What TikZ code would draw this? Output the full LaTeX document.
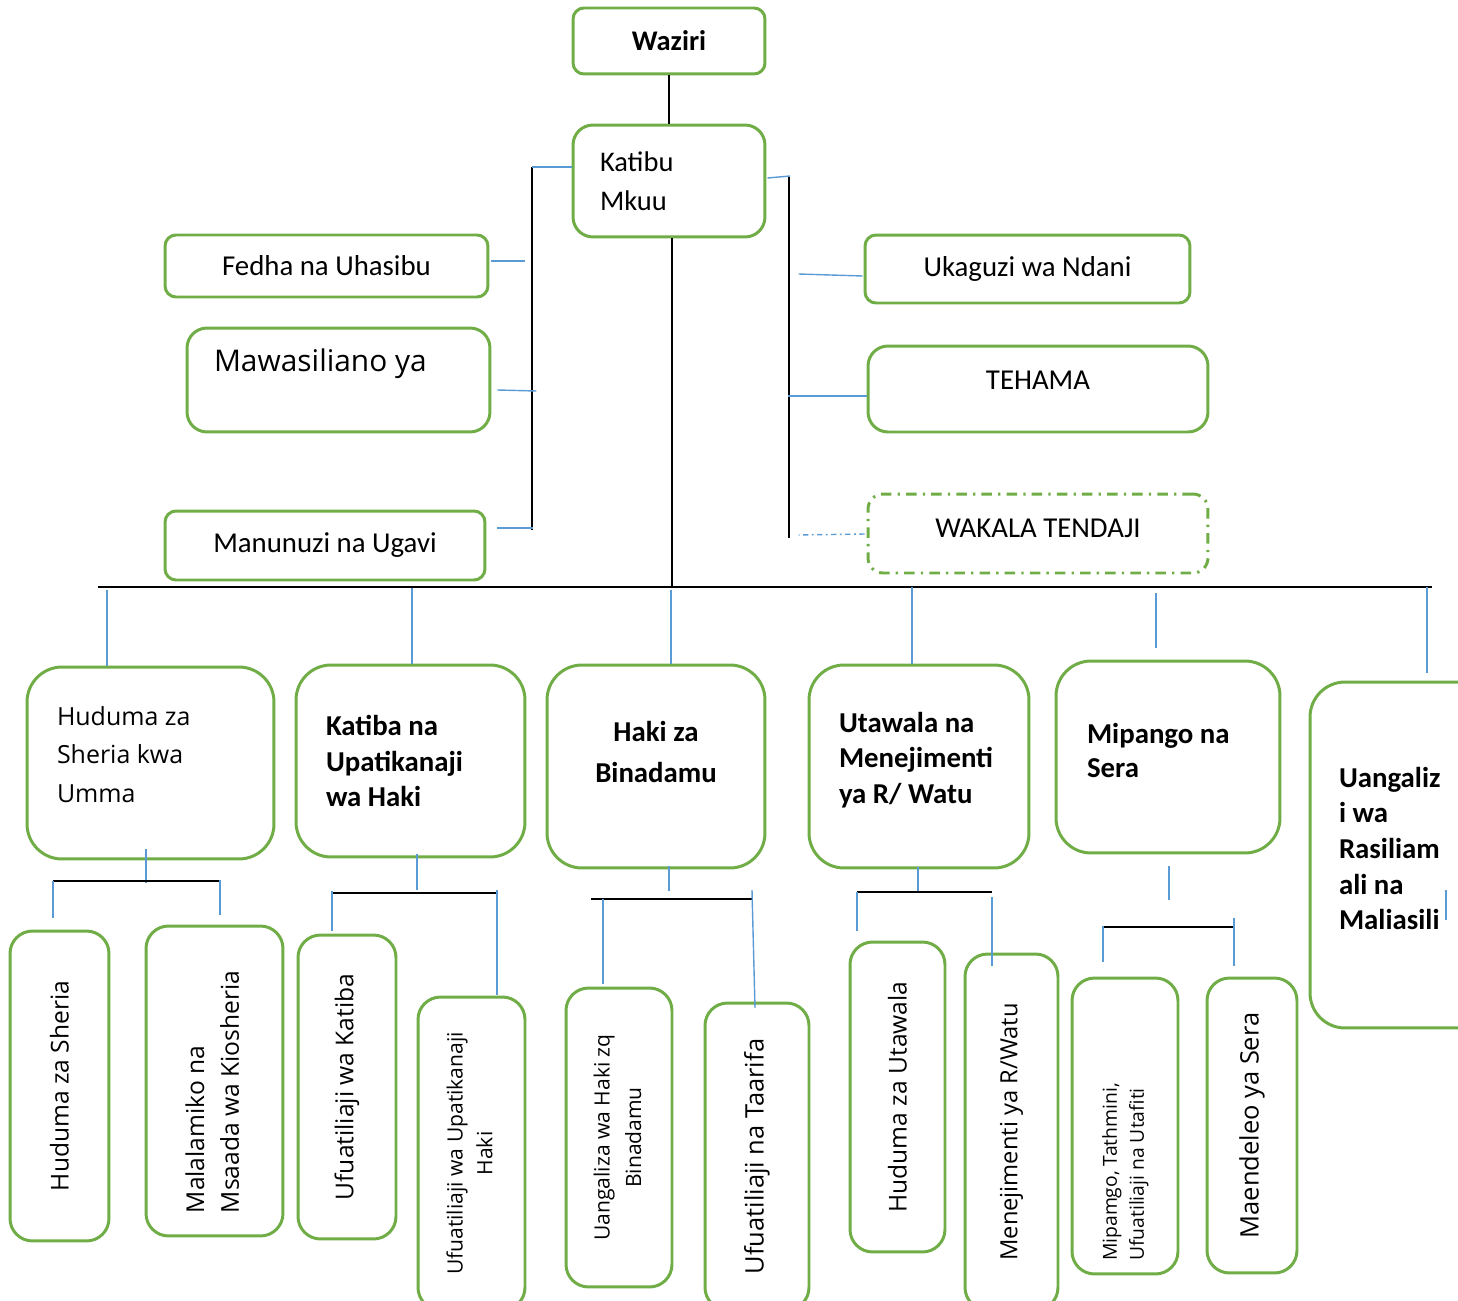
\documentclass[tikz,border=0pt]{standalone}
\usepackage{fontspec}
\setmainfont{Carlito}
\newfontfamily\segoe{Open Sans}
\usepackage{graphicx}
\hyphenpenalty=10000
\definecolor{boxgreen}{RGB}{112,173,71}
\definecolor{linkblue}{RGB}{91,155,213}
% text block lifted inside its box, box size kept
\newcommand{\liftbox}[3]{\raisebox{#1}[\height][\depth]{\parbox{#2}{\raggedright #3}}}
\tikzset{
  box/.style={draw=boxgreen, line width=1.7pt, inner sep=0pt, rounded corners=0.4cm},
  topbox/.style={box, rounded corners=0.22cm, font=\fontsize{16.4}{19}\selectfont},
  midbox/.style={box, rounded corners=0.7cm, font=\fontsize{16.4}{20.2}\selectfont\bfseries},
  subbox/.style={box, rounded corners=0.45cm, font=\segoe\fontsize{14}{19.8}\selectfont},
  blk/.style={black, line width=0.8pt},
  blu/.style={linkblue, line width=0.8pt},
  dashdot/.style={dash pattern=on 3pt off 2pt on 1pt off 2pt}
}
\begin{document}
\begin{tikzpicture}[x=0.02cm, y=0.02cm]
\useasboundingbox (0,0) rectangle (1458,-1301);
\clip (0,0) rectangle (1458,-1301);

% Drawing top boxes
\node[topbox, minimum width=3.84cm, minimum height=1.32cm, font=\fontsize{16.2}{19}\selectfont\bfseries] (waziri) at (669,-41) {Waziri};
\node[topbox, rounded corners=0.4cm, minimum width=3.84cm, minimum height=2.24cm, font=\fontsize{16.2}{22}\selectfont] (katibu) at (669,-181) {\liftbox{0cm}{2.76cm}{Katibu\\Mkuu}};
\node[topbox, minimum width=6.46cm, minimum height=1.24cm] (fedha) at (326.5,-266) {Fedha na Uhasibu};
\node[topbox, rounded corners=0.4cm, minimum width=6.06cm, minimum height=2.08cm, font=\segoe\fontsize{17}{19}\selectfont] (mawas) at (338.5,-380) {\liftbox{0.32cm}{4.98cm}{Mawasiliano ya}};
\node[topbox, minimum width=6.40cm, minimum height=1.38cm] (manun) at (325,-545.5) {Manunuzi na Ugavi};
\node[topbox, minimum width=6.50cm, minimum height=1.36cm] (ukag) at (1027.5,-269) {Ukaguzi wa Ndani};
\node[topbox, rounded corners=0.4cm, minimum width=6.80cm, minimum height=1.72cm] (tehama) at (1038,-389) {\raisebox{0.18cm}[\height][\depth]{TEHAMA}};
\node[topbox, rounded corners=0.3cm, minimum width=6.80cm, minimum height=1.58cm, dash pattern=on 6pt off 3.5pt on 1.3pt off 3.5pt] (wakala) at (1038,-533.5) {\raisebox{0.11cm}[\height][\depth]{WAKALA TENDAJI}};

% Drawing links round Katibu Mkuu
\draw[blk] (waziri) -- (katibu);
\coordinate (ltop) at (532,-167);
\coordinate (lbot) at (532,-530);
\draw[blk] (ltop) -- (lbot);
\draw[blu] (ltop) -- (katibu.west |- ltop);
\draw[blu] ([shift={(2,5)}]fedha.east) -- ++(34,0);
\draw[blu] ([shift={(6,-10)}]mawas.east) -- ++(39,-1);
\draw[blu] ([shift={(11,17.5)}]manun.east) -- ++(36,0);
\coordinate (rtop) at (789,-177);
\coordinate (rbot) at (789,-538);
\draw[blk] (rtop) -- (rbot);
\draw[blu] ([shift={(1,3)}]katibu.east) -- ([shift={(1,1)}]rtop);
\draw[blu] ([shift={(-65,-5)}]ukag.west) -- ([shift={(-1,-7)}]ukag.west);
\draw[blu] ([shift={(0,-7)}]tehama.west) -- ++(-79,0);
\draw[blu, dashdot] ([shift={(-2,-0.5)}]wakala.west) -- ++(-66,-1);

% Drawing main bar
\coordinate (hub) at (672,-587);
\coordinate (barl) at (98,-587);
\coordinate (barr) at (1432,-587);
\draw[blk] (katibu.south -| hub) -- (hub);
\draw[blk] (barl) -- (barr);

% Drawing middle boxes
\node[midbox, minimum width=4.94cm, minimum height=3.84cm, font=\segoe\fontsize{14.2}{21.8}\selectfont] (huduma) at (150.5,-763) {\liftbox{0.17cm}{3.74cm}{Huduma za\\Sheria kwa\\Umma}};
\node[midbox, minimum width=4.58cm, minimum height=3.84cm] (katiba) at (410.5,-761) {\liftbox{0cm}{3.38cm}{Katiba na\\Upatikanaji\\wa Haki}};
\node[midbox, minimum width=4.36cm, minimum height=4.06cm, font=\fontsize{16.4}{23.8}\selectfont\bfseries] (haki) at (656,-766.5) {\liftbox{0.29cm}{3.6cm}{\centering Haki za\\Binadamu}};
\node[midbox, minimum width=4.40cm, minimum height=4.06cm, font=\fontsize{16.4}{20.4}\selectfont\bfseries] (utawala) at (919,-766.5) {\liftbox{0.13cm}{3.2cm}{Utawala na\\Menejimenti\\ya R/ Watu}};
\node[midbox, minimum width=4.48cm, minimum height=3.84cm, font=\fontsize{16.4}{19.8}\selectfont\bfseries] (mipango) at (1168,-757) {\liftbox{0.13cm}{3.24cm}{Mipango na\\Sera}};
\node[midbox, minimum width=3.60cm, minimum height=6.92cm, font=\fontsize{16.4}{20.3}\selectfont\bfseries] (uang) at (1400,-855) {\liftbox{0.13cm}{2.44cm}{Uangaliz\\i wa\\Rasiliam\\ali na\\Maliasili}};

% Drawing drops from main bar
\coordinate (d1) at (107,-590);
\coordinate (d2) at (412,-588);
\coordinate (d3) at (671,-590);
\coordinate (d4) at (912,-587);
\coordinate (d5) at (1156,-593);
\coordinate (d6) at (1427,-587);
\draw[blu] (d1) -- (d1 |- huduma.north);
\draw[blu] (d2) -- (d2 |- katiba.north);
\draw[blu] (d3) -- (d3 |- haki.north);
\draw[blu] (d4) -- (d4 |- utawala.north);
\draw[blu] (d5) -- ++(0,-55);
\draw[blu] (d6) -- ++(0,-86);
\coordinate (tick) at (1446,-890);
\draw[blu] (tick) -- ++(0,-30);

% Drawing sub boxes
\node[subbox, minimum width=1.98cm, minimum height=6.20cm] (s11) at (59.5,-1086) {\rotatebox{90}{Huduma za Sheria}};
\node[subbox, minimum width=2.74cm, minimum height=6.20cm] (s12) at (214.5,-1081) {\rotatebox{90}{\begin{tabular}{@{}l@{\hspace{0.44cm}}}Malalamiko na\\Msaada wa Kiosheria\end{tabular}}};
\node[subbox, minimum width=1.96cm, minimum height=6.08cm] (s21) at (347,-1087) {\rotatebox{90}{Ufuatiliaji wa Katiba}};
\node[subbox, minimum width=2.14cm, minimum height=6.26cm, font=\segoe\fontsize{12}{17}\selectfont] (s22) at (471.5,-1153.5) {\rotatebox{90}{\begin{tabular}{@{}c@{}}Ufuatiliaji wa Upatikanaji\\Haki\end{tabular}}};
\node[subbox, minimum width=2.12cm, minimum height=5.98cm, font=\segoe\fontsize{12}{18}\selectfont] (s31) at (619,-1137.5) {\rotatebox{90}{\begin{tabular}{@{}c@{}}Uangaliza wa Haki zq\\Binadamu\end{tabular}}};
\node[subbox, minimum width=2.08cm, minimum height=6.14cm, font=\segoe\fontsize{14.5}{19}\selectfont] (s32) at (757,-1156.5) {\rotatebox{90}{Ufuatiliaji na Taarifa}};
\node[subbox, minimum width=1.90cm, minimum height=6.20cm] (s41) at (897.5,-1097) {\rotatebox{90}{Huduma za Utawala}};
\node[subbox, minimum width=1.86cm, minimum height=7.12cm, font=\segoe\fontsize{13.5}{19}\selectfont] (s42) at (1011.5,-1132) {\rotatebox{90}{Menejimenti ya R/Watu}};
\node[subbox, minimum width=2.12cm, minimum height=5.92cm, font=\segoe\fontsize{11}{15.3}\selectfont] (s51) at (1125,-1126) {\rotatebox{90}{\begin{tabular}{@{}l@{\hspace{1.84cm}}}Mipamgo, Tathmini,\\Ufuatiliaji na Utafiti\end{tabular}}};
\node[subbox, minimum width=1.80cm, minimum height=5.90cm, font=\segoe\fontsize{14.5}{19}\selectfont] (s52) at (1252,-1125.5) {\rotatebox{90}{Maendeleo ya Sera}};

% Drawing sub groups
\coordinate (j11) at (53,-881);
\coordinate (j12) at (221,-881);
\draw[blu] ([shift={(-4.5,11)}]huduma.south) -- ++(0,-34);
\draw[blk] (j11) -- (j12);
\draw[blu] (j11) -- ++(0,-37);
\draw[blu] ([shift={(-1,1)}]j12) -- ++(0,-35);

\coordinate (j21) at (332,-893);
\coordinate (j22) at (497,-893);
\draw[blu] ([shift={(6.5,4)}]katiba.south) -- ++(0,-36);
\draw[blk] (j21) -- (j22);
\draw[blu] ([shift={(0,2)}]j21) -- ++(0,-40);
\draw[blu] ([shift={(0,3)}]j22) -- ++(0,-105);

\coordinate (j31) at (591,-899);
\coordinate (j32) at (753,-899);
\draw[blu] ([shift={(13,3)}]haki.south) -- ++(0,-25);
\draw[blk] (j31) -- (j32);
\draw[blu] ([shift={(12,0)}]j31) -- ++(0,-85);
\draw[blu] ([shift={(-1,9)}]j32) -- ++(3,-118);

\coordinate (j41) at (857,-892);
\coordinate (j42) at (992,-892);
\draw[blu] ([shift={(-1,2)}]utawala.south) -- ++(0,-26);
\draw[blk] (j41) -- (j42);
\draw[blu] (j41) -- ++(0,-39);
\draw[blu] ([shift={(0,-5)}]j42) -- ++(0,-69);

\coordinate (j51) at (1104,-927);
\coordinate (j52) at (1234,-927);
\draw[blu] ([shift={(1,-12)}]mipango.south) -- ++(0,-34);
\draw[blk] (j51) -- (j52);
\draw[blu] ([shift={(-1,1)}]j51) -- ++(0,-36);
\draw[blu] ([shift={(0,9)}]j52) -- ++(0,-48);
\end{tikzpicture}
\end{document}
